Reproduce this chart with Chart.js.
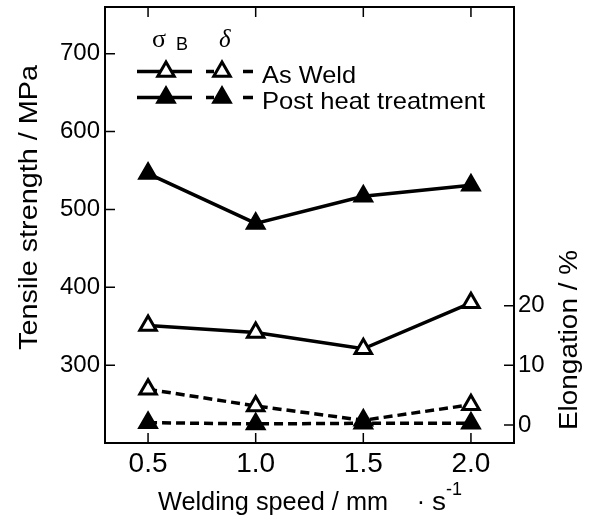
<!DOCTYPE html>
<html>
<head>
<meta charset="utf-8">
<script src="https://cdn.jsdelivr.net/npm/chart.js@4.4.1/dist/chart.umd.min.js"></script>
<style>
  html, body { margin: 0; padding: 0; background: #fff; }
</style>
</head>
<body>
<canvas id="chart" width="590" height="520"></canvas>
<script>
// welding speed (mm/s) vs tensile strength (MPa) and elongation (%)
const speeds = [0.5, 1.0, 1.5, 2.0];
const tensileAsWeld = [351, 342, 321, 380];
const tensilePostHeat = [546, 482, 517, 531];
const elongAsWeld = [6.0, 3.2, 0.8, 3.4];
const elongPostHeat = [0.4, 0.2, 0.3, 0.3];

const xTicks = [0.5, 1.0, 1.5, 2.0];
const tensileTicks = [300, 400, 500, 600, 700];
const elongTicks = [0, 10, 20];

const SANS = '"Liberation Sans", Arial, sans-serif';
const SERIF = '"Liberation Serif", "Times New Roman", serif';

const pts = (ys) => speeds.map((x, i) => ({ x, y: ys[i] }));

function series(ys, axis, filled, dashed) {
    return {
        data: pts(ys),
        yAxisID: axis,
        borderColor: '#000',
        borderWidth: 3.5,
        borderDash: dashed ? [9, 5] : [],
        pointStyle: 'triangle',
        pointRadius: 9.5,
        pointHoverRadius: 9.5,
        pointBorderWidth: 3,
        pointBorderColor: '#000',
        pointBackgroundColor: filled ? '#000' : '#fff',
        fill: false,
        tension: 0
    };
}

// stretch text along its run to a target width
function stretchText(ctx, text, x, y, width) {
    const k = width / ctx.measureText(text).width;
    ctx.save();
    ctx.translate(x, y);
    ctx.scale(k, 1);
    ctx.fillText(text, 0, 0);
    ctx.restore();
}

const inwardTicks = {
    id: 'inwardTicks',
    beforeDatasetsDraw(chart) {
        const { ctx, chartArea: a, scales } = chart;
        ctx.save();
        ctx.strokeStyle = '#000';
        ctx.lineWidth = 1.5;
        ctx.beginPath();
        xTicks.forEach(v => {
            const px = scales.x.getPixelForValue(v);
            ctx.moveTo(px, a.bottom); ctx.lineTo(px, a.bottom - 10);
            ctx.moveTo(px, a.top); ctx.lineTo(px, a.top + 10);
        });
        tensileTicks.forEach(v => {
            const py = scales.y.getPixelForValue(v);
            ctx.moveTo(a.left, py); ctx.lineTo(a.left + 10, py);
        });
        elongTicks.forEach(v => {
            const py = scales.y1.getPixelForValue(v);
            ctx.moveTo(a.right, py); ctx.lineTo(a.right - 10, py);
        });
        ctx.stroke();
        ctx.restore();
    }
};

const decorations = {
    id: 'decorations',
    afterDraw(chart) {
        const ctx = chart.ctx;
        ctx.save();
        ctx.fillStyle = '#000';
        ctx.strokeStyle = '#000';
        ctx.textBaseline = 'alphabetic';
        ctx.textAlign = 'left';

        // legend header
        ctx.font = '26px ' + SERIF;
        ctx.fillText('σ', 152, 47);
        ctx.font = 'italic 25px ' + SERIF;
        ctx.fillText('δ', 219, 47);
        ctx.font = '18px ' + SANS;
        ctx.fillText('B', 176, 50);

        // legend rows
        const rows = [
            { y: 71.5, fill: '#fff', label: 'As Weld', w: 94, base: 82.5 },
            { y: 97.5, fill: '#000', label: 'Post heat treatment', w: 223, base: 109 }
        ];
        rows.forEach(r => {
            ctx.lineWidth = 3.5;
            ctx.setLineDash([]);
            ctx.beginPath();
            ctx.moveTo(137, r.y); ctx.lineTo(192, r.y);
            ctx.moveTo(206, r.y); ctx.lineTo(214, r.y);
            ctx.moveTo(243, r.y); ctx.lineTo(253, r.y);
            ctx.stroke();
            ctx.lineWidth = 3;
            ctx.fillStyle = r.fill;
            [166, 222].forEach(x => {
                Chart.helpers.drawPoint(ctx, { pointStyle: 'triangle', radius: 9.5, borderWidth: 3, rotation: 0 }, x, r.y);
            });
            ctx.fillStyle = '#000';
            ctx.font = '24px ' + SANS;
            stretchText(ctx, r.label, 262, r.base, r.w);
        });

        // axis titles
        ctx.font = '25px ' + SANS;
        ctx.save();
        ctx.translate(37, 350);
        ctx.rotate(-Math.PI / 2);
        stretchText(ctx, 'Tensile strength / MPa', 0, 0, 285);
        ctx.restore();

        ctx.save();
        ctx.translate(577, 430);
        ctx.rotate(-Math.PI / 2);
        stretchText(ctx, 'Elongation / %', 0, 0, 180);
        ctx.restore();

        stretchText(ctx, 'Welding speed / mm', 158, 510, 230);
        ctx.textAlign = 'center';
        ctx.fillText('·', 421, 510);
        ctx.textAlign = 'left';
        stretchText(ctx, 's', 432, 510, 14);
        ctx.font = '18px ' + SANS;
        ctx.fillText('-1', 446, 495);

        ctx.restore();
    }
};

const fixedTicks = (list) => (scale) => { scale.ticks = list.map(v => ({ value: v })); };
const pinSize = (prop, size) => (s) => {
    s[prop] = size;
    s.paddingTop = 0; s.paddingBottom = 0; s.paddingLeft = 0; s.paddingRight = 0;
};

new Chart(document.getElementById('chart'), {
    type: 'line',
    data: {
        datasets: [
            series(elongPostHeat, 'y1', true, true),
            series(elongAsWeld, 'y1', false, true),
            series(tensilePostHeat, 'y', true, false),
            series(tensileAsWeld, 'y', false, false)
        ]
    },
    options: {
        responsive: false,
        animation: false,
        devicePixelRatio: 1,
        layout: { padding: 0, autoPadding: false },
        plugins: { legend: { display: false }, tooltip: { enabled: false } },
        scales: {
            x: {
                type: 'linear', position: 'bottom', min: 0.3, max: 2.2,
                afterBuildTicks: fixedTicks(xTicks),
                afterFit: pinSize('height', 77),
                grid: { display: false, drawTicks: false },
                border: { display: true, color: '#000', width: 2 },
                ticks: { color: '#000', padding: 4, font: { family: SANS, size: 28 }, callback: v => v.toFixed(1) }
            },
            x2: {
                type: 'linear', position: 'top', min: 0.3, max: 2.2,
                afterFit: pinSize('height', 7),
                grid: { display: false, drawTicks: false },
                border: { display: true, color: '#000', width: 2 },
                ticks: { display: false }
            },
            y: {
                type: 'linear', position: 'left', min: 200, max: 760,
                afterBuildTicks: fixedTicks(tensileTicks),
                afterFit: pinSize('width', 105),
                grid: { display: false, drawTicks: false },
                border: { display: true, color: '#000', width: 2 },
                ticks: { color: '#000', padding: 5, font: { family: SANS, size: 24 } }
            },
            y1: {
                type: 'linear', position: 'right', min: -3, max: 70,
                afterBuildTicks: fixedTicks(elongTicks),
                afterFit: pinSize('width', 76),
                grid: { display: false, drawTicks: false },
                border: { display: true, color: '#000', width: 2 },
                ticks: { color: '#000', padding: 4, font: { family: SANS, size: 24 } }
            }
        }
    },
    plugins: [inwardTicks, decorations]
});
</script>
</body>
</html>
